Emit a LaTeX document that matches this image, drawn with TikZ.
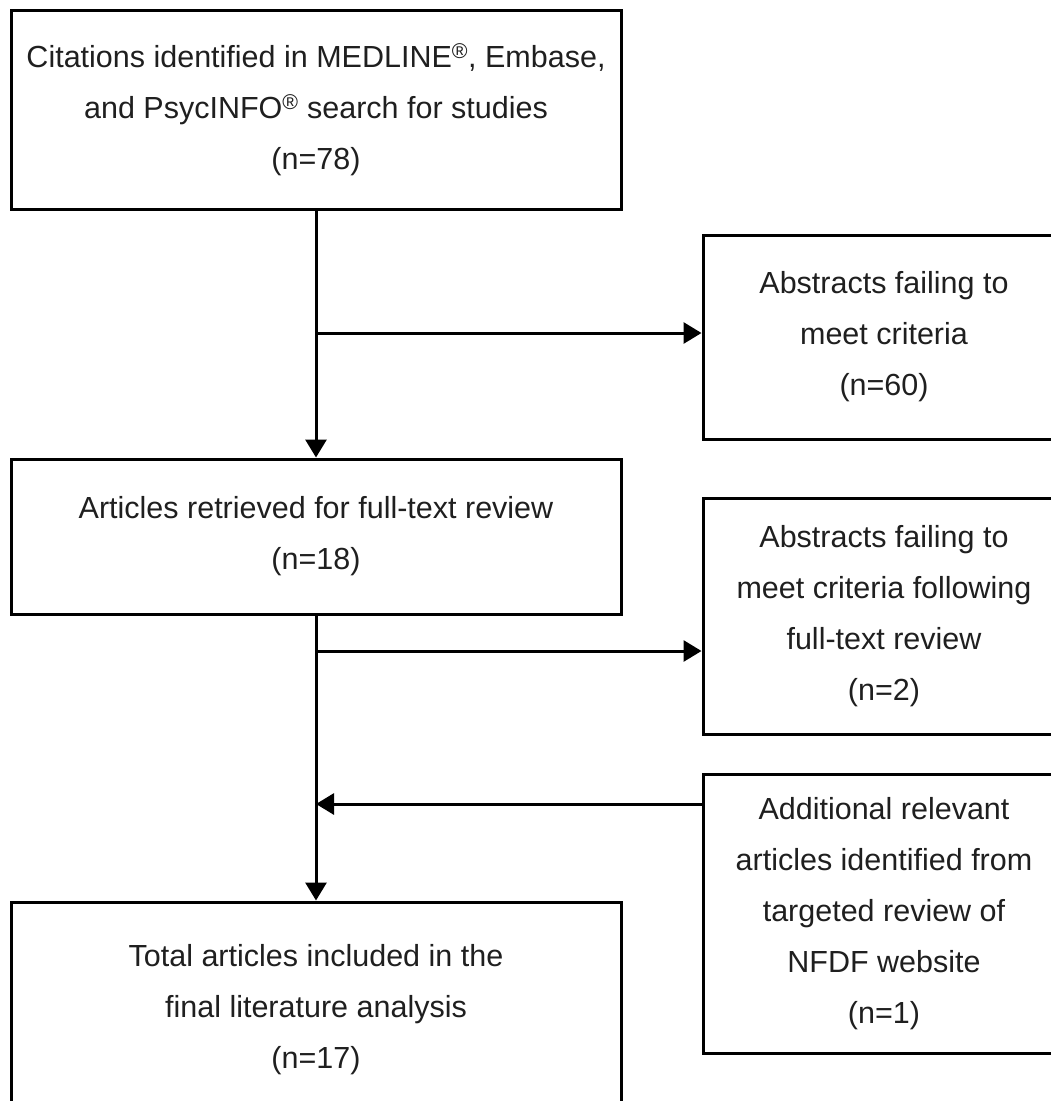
\documentclass[tikz,border=0pt]{standalone}
\usepackage{fontspec}
\setmainfont{Liberation Sans}
\usetikzlibrary{positioning,arrows.meta}
\tikzset{
	stagebox/.style={draw,line width=3pt,align=center,inner sep=0pt,text=black!88,font=\fontsize{30.5}{51}\selectfont},
	flow/.style={line width=3pt,-{Triangle[length=18pt,width=21pt]}}
}
\newcommand{\flowstage}[5]{
	\node [stagebox,minimum width=#3,minimum height=#4] (#1) at #2 {#5}
}

\begin{document}
\begin{tikzpicture}[x=1pt,y=-1pt]
	\useasboundingbox (0,0) rectangle (1051,1101);
	\clip (0,0) rectangle (1051,1101);

	% Main column
	\flowstage {search}{(316,109.5)}{610pt}{199pt}{Citations identified in MEDLINE\textsuperscript{\textregistered}, Embase,\\and PsycINFO\textsuperscript{\textregistered} search for studies\\(n=78)};
	\flowstage {retrieved}{(316,536.5)}{610pt}{155pt}{Articles retrieved for full-text review\\(n=18)};
	\flowstage {total}{(316,1010)}{610pt}{216pt}{Total articles included in the\\final literature analysis\\(n=17)};

	% Side column
	\flowstage {abstracts}{(884,337)}{362pt}{204pt}{Abstracts failing to\\meet criteria\\(n=60)};
	\flowstage {fulltext}{(884,616)}{362pt}{236pt}{Abstracts failing to\\meet criteria following\\full-text review\\(n=2)};
	\flowstage {additional}{(884,913.5)}{362pt}{279pt}{Additional relevant\\articles identified from\\targeted review of\\NFDF website\\(n=1)};

	% Connectors
	\coordinate (fork1) at (316,333);
	\coordinate (fork2) at (316,651);
	\coordinate (join) at (316,804);
	\draw [flow] (search) -- (retrieved);
	\draw [flow] (fork1) -- (fork1 -| abstracts.west);
	\draw [flow] (retrieved) -- (total);
	\draw [flow] (fork2) -- (fork2 -| fulltext.west);
	\draw [flow] (join -| additional.west) -- (join);
\end{tikzpicture}
\end{document}
